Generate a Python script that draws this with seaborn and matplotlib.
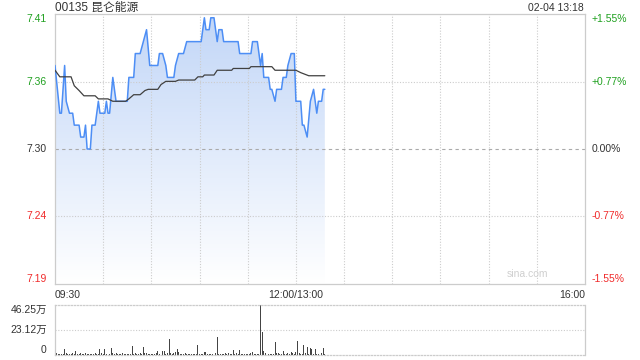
import numpy as np
import matplotlib
matplotlib.use("Agg")
import matplotlib.pyplot as plt
import seaborn as sns

# ---------------- data ----------------
title = "00135 昆仑能源"
stamp = "02-04 13:18"
prev_close = 7.30
pct_levels = [1.55, 0.77, 0.00, -0.77, -1.55]
price_labels = ["7.41", "7.36", "7.30", "7.24", "7.19"]
pct_labels = ["+1.55%", "+0.77%", "0.00%", "-0.77%", "-1.55%"]
x_tick_minutes = [0, 150, 330]
x_tick_labels = ["09:30", "12:00/13:00", "16:00"]
grid_minutes = [30, 60, 90, 120, 150, 180, 210, 240, 270, 300]

price_t = [0, 3, 4, 6, 7, 9, 11, 12, 15, 16, 18, 19, 20, 22, 23, 25, 27, 28, 31, 32,
           33, 34, 36, 38, 45, 46, 49, 50, 53, 55, 57, 59, 64, 65, 67, 69, 70, 74, 75, 77,
           80, 82, 91, 93, 94, 96, 97, 99, 101, 102, 104, 105, 114, 115, 122, 123, 126, 128,
           129, 130, 133, 134, 135, 137, 138, 141, 142, 144, 145, 147, 149, 150, 153, 154,
           155, 157, 159, 161, 163, 164, 166, 167, 168]
price_v = [7.37, 7.33, 7.33, 7.37, 7.34, 7.33, 7.33, 7.32, 7.32, 7.31, 7.31, 7.32, 7.30, 7.30,
           7.32, 7.32, 7.34, 7.33, 7.33, 7.34, 7.33, 7.33, 7.36, 7.34, 7.34, 7.36, 7.36, 7.38,
           7.38, 7.39, 7.40, 7.37, 7.37, 7.38, 7.38, 7.37, 7.36, 7.36, 7.37, 7.38, 7.38, 7.39,
           7.39, 7.41, 7.40, 7.40, 7.41, 7.41, 7.39, 7.40, 7.40, 7.39, 7.39, 7.38, 7.38, 7.39,
           7.39, 7.37, 7.38, 7.36, 7.36, 7.35, 7.35, 7.34, 7.35, 7.35, 7.36, 7.36, 7.37, 7.38,
           7.38, 7.34, 7.34, 7.32, 7.32, 7.31, 7.34, 7.35, 7.33, 7.34, 7.34, 7.35, 7.35]

avg_t = [0, 3, 10, 12, 15, 18, 25, 27, 33, 36, 44, 46, 49, 53, 56, 58, 64, 66, 69, 75, 77,
         87, 89, 92, 93, 99, 101, 110, 111, 121, 122, 135, 137, 150, 153, 158, 168]
avg_v = [7.366, 7.3605, 7.3605, 7.353, 7.349, 7.3446, 7.3446, 7.342, 7.342, 7.340, 7.340,
         7.342, 7.3455, 7.3455, 7.349, 7.350, 7.350, 7.354, 7.3567, 7.3567, 7.3578, 7.3578,
         7.3605, 7.3605, 7.362, 7.362, 7.366, 7.366, 7.3675, 7.3675, 7.369, 7.369, 7.366,
         7.366, 7.364, 7.3614, 7.3614]

# volume per minute (万), minutes 0..168
volume = [5.2, 1.5, 0.8, 1.2, 0.6, 1.0, 5.2, 1.5, 1.0, 1.2,
          0.8, 1.5, 1.0, 3.7, 1.2, 1.0, 1.8, 1.2, 0.8, 1.5,
          1.0, 0.8, 1.2, 0.6, 1.0, 1.4, 0.8, 1.2, 5.2, 1.5,
          1.0, 5.2, 1.0, 0.8, 1.2, 6.2, 1.5, 1.0, 2.0, 1.2,
          1.0, 0.8, 1.4, 1.0, 0.6, 1.2, 0.8, 1.0, 8.3, 1.2,
          1.5, 0.8, 1.0, 1.4, 0.8, 7.0, 1.5, 2.0, 1.0, 1.2,
          0.8, 1.0, 0.6, 1.5, 3.7, 1.2, 8.3, 3.7, 3.7, 1.0,
          1.5, 14.5, 1.5, 1.2, 2.0, 3.0, 5.2, 2.5, 1.2, 1.0,
          0.8, 1.5, 1.0, 0.8, 1.2, 1.0, 0.6, 1.2, 1.0, 9.2,
          1.0, 0.8, 1.2, 2.5, 3.0, 1.0, 0.8, 1.2, 1.0, 0.8,
          1.5, 17.0, 1.0, 0.8, 1.2, 1.0, 1.5, 1.0, 2.0, 1.2,
          1.0, 4.6, 1.2, 1.5, 1.0, 4.6, 1.2, 1.0, 0.8, 1.2,
          1.0, 0.8, 1.5, 2.5, 1.0, 1.2, 0.8, 1.0, 46.25, 21.6,
          4.0, 1.5, 1.2, 1.0, 0.8, 1.2, 1.0, 12.3, 2.0, 1.5,
          1.0, 0.8, 4.0, 1.2, 1.0, 1.5, 0.8, 2.5, 1.8, 1.0,
          2.5, 13.2, 1.5, 1.2, 1.0, 9.5, 1.5, 7.7, 1.2, 6.8,
          5.2, 1.0, 5.2, 1.2, 1.0, 0.8, 1.5, 6.8, 1.0]
vol_ticks = [46.25, 23.12, 0]
vol_labels = ["46.25万", "23.12万", "0"]

# ---------------- style ----------------
sns.set_style("white")
plt.rcParams['font.family'] = ['Liberation Sans', 'Noto Sans CJK SC', 'DejaVu Sans']

GREEN = '#1fa01f'
RED = '#f02b2b'
DARK = '#333333'
GRID = '#cccccc'
LINE = '#4d8ef5'

fig = plt.figure(figsize=(6.4, 3.6), dpi=100)
ax = fig.add_axes([55/640, 1-284/360, 530/640, 270/360])
axv = fig.add_axes([55/640, 1-355/360, 530/640, 50/360])

levels = [prev_close * (1 + p/100) for p in pct_levels]
ymax, ymin = levels[0], levels[-1]
ax.set_xlim(0, 330)
ax.set_ylim(ymin, ymax)

# gradient fill under price line
poly = ax.fill_between(price_t, price_v, ymin, facecolor='none', edgecolor='none')
grad = np.linspace(0, 1, 256).reshape(-1, 1)
top_c = np.array([0.76, 0.84, 0.97])
bot_c = np.array([1.0, 1.0, 1.0])
img = top_c[None, None, :] * (1 - grad[..., None]) + bot_c[None, None, :] * grad[..., None]
im = ax.imshow(img, extent=[0, 330, ymin, ymax], aspect='auto', origin='upper', zorder=1)
im.set_clip_path(poly.get_paths()[0], transform=ax.transData)

# grid (drawn over the fill)
for gm in grid_minutes:
    ax.axvline(gm, color=GRID, lw=0.8, ls=(0, (1, 1.5)), zorder=2)
for lv, p in zip(levels[1:-1], pct_levels[1:-1]):
    if p == 0:
        ax.axhline(lv, color='#aaaaaa', lw=0.8, ls=(0, (3, 3)), zorder=2)
    else:
        ax.axhline(lv, color=GRID, lw=0.8, ls=(0, (1, 1.5)), zorder=2)

sns.lineplot(x=price_t, y=price_v, ax=ax, color=LINE, linewidth=1.1, zorder=3)
sns.lineplot(x=avg_t, y=avg_v, ax=ax, color='#404040', linewidth=0.9, zorder=4)

for s in ax.spines.values():
    s.set_color(GRID)
    s.set_linewidth(0.9)

ax.set_yticks(levels)
ax.set_yticklabels(price_labels)
label_colors = [GREEN, GREEN, DARK, RED, RED]
vas = ['top', 'center', 'center', 'center', 'bottom']
for lbl, c, va in zip(ax.get_yticklabels(), label_colors, vas):
    lbl.set_color(c)
    lbl.set_verticalalignment(va)
ax.tick_params(axis='y', length=0, pad=6, labelsize=7.5)

ax.set_xticks(x_tick_minutes)
ax.set_xticklabels(x_tick_labels)
for lbl, ha in zip(ax.get_xticklabels(), ['left', 'center', 'right']):
    lbl.set_horizontalalignment(ha)
ax.tick_params(axis='x', length=0, pad=4, labelsize=7.5, labelcolor=DARK)

axr = ax.twinx()
axr.set_ylim(ymin, ymax)
axr.set_yticks(levels)
axr.set_yticklabels(pct_labels)
for lbl, c, va in zip(axr.get_yticklabels(), label_colors, vas):
    lbl.set_color(c)
    lbl.set_verticalalignment(va)
axr.tick_params(axis='y', length=0, pad=5, labelsize=7.5)
for s in axr.spines.values():
    s.set_visible(False)

ax.text(0.93, 0.02, "sina.com", transform=ax.transAxes, ha='right', va='bottom',
        fontsize=7.5, color='#cfcfcf')

fig.text(55/640, 1-7.5/360, title, ha='left', va='center', fontsize=8.5, color=DARK)
fig.text(584/640, 1-8/360, stamp, ha='right', va='center', fontsize=7.5, color=DARK)

# volume panel
axv.bar(range(len(volume)), volume, width=0.62, color='#444444', linewidth=0)
axv.set_xlim(0, 330)
axv.set_ylim(0, vol_ticks[0])
axv.axhline(vol_ticks[1], color=GRID, lw=0.8, ls=(0, (1, 1.5)))
axv.set_yticks(vol_ticks)
axv.set_yticklabels(vol_labels)
for lbl, va in zip(axv.get_yticklabels(), ['top', 'center', 'bottom']):
    lbl.set_verticalalignment(va)
axv.tick_params(axis='y', length=0, pad=6, labelsize=7.5, labelcolor=DARK)
axv.set_xticks([])
for side in ['left', 'right']:
    axv.spines[side].set_color(GRID)
    axv.spines[side].set_linewidth(0.9)
for side in ['top', 'bottom']:
    axv.spines[side].set_color(GRID)
    axv.spines[side].set_linewidth(0.9)
    axv.spines[side].set_linestyle((0, (1, 1.5)))

fig.savefig("out.png", dpi=100)
